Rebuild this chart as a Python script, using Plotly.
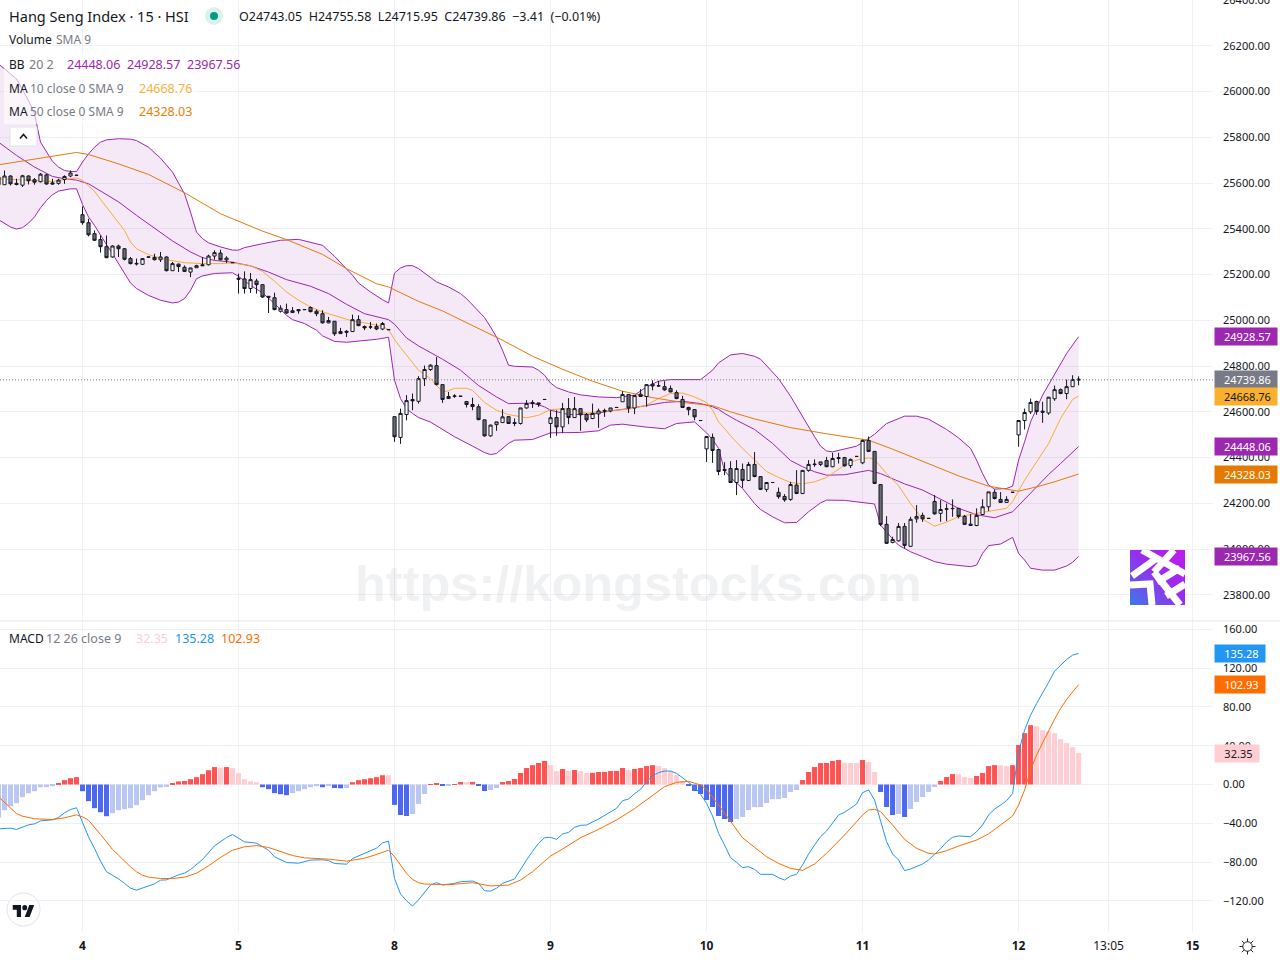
import base64

import plotly.graph_objects as go

UP_FILL = "#ffffff"
DOWN_FILL = "#6a6d73"
PURPLE = "#9c27b0"
MA10_COLOR = "#f9ab35"
MA50_COLOR = "#e67a0c"
GRID = "#f0f1f5"
TEXT = "#131722"
GREY = "#787b86"
FONT = "Noto Sans"

# bar number 0 is the first 15 minute bar of the 4th, 26 bars make one session
first_bar = -14

opens = [25593, 25593, 25631, 25599, 25591, 25631, 25615, 25606, 25636, 25601, 25599, 25616, 25631, 25634,
         25462, 25427, 25379, 25353, 25322, 25277, 25325, 25313, 25270, 25249,
         25245, 25276, 25275, 25265, 25277, 25217, 25246, 25232, 25211, 25230,
         25243, 25243, 25281, 25294, 25264, 25253, 25184, 25181, 25139, 25172,
         25156, 25105, 25099, 25040, 25047, 25034, 25047, 25047, 25056, 25040,
         25029, 24989, 24996, 24942, 24952, 24951, 25003, 24973, 24971, 24973,
         24962, 24960, 24579, 24488, 24588, 24654, 24646, 24745, 24785, 24802,
         24719, 24658, 24668, 24668, 24645, 24632, 24622, 24565, 24495, 24544,
         24553, 24579, 24553, 24549, 24617, 24641, 24639, 24654, 24549, 24575,
         24534, 24614, 24575, 24614, 24588, 24571, 24591, 24606, 24604, 24619,
         24644, 24676, 24617, 24677, 24667, 24721, 24713, 24710, 24702, 24684,
         24654, 24619, 24610, 24562, 24438, 24488, 24435, 24348, 24352, 24291,
         24348, 24300, 24370, 24317, 24261, 24291, 24248, 24230, 24217, 24280,
         24243, 24344, 24369, 24370, 24387, 24360, 24400, 24400, 24365, 24405,
         24377, 24475, 24427, 24282, 24108, 24029, 24036, 24099, 24012, 24132,
         24147, 24134, 24208, 24156, 24174, 24178, 24178, 24143, 24109, 24103,
         24151, 24185, 24248, 24217, 24204, 24248, 24499, 24562, 24600, 24645,
         24603, 24595, 24657, 24697, 24680, 24710, 24743.05]
highs = [25634, 25655, 25634, 25619, 25636, 25634, 25622, 25644, 25641, 25619, 25619, 25634, 25655, 25636,
         25498, 25444, 25393, 25371, 25371, 25328, 25331, 25316, 25277, 25270,
         25272, 25278, 25291, 25299, 25280, 25255, 25248, 25240, 25230, 25243,
         25277, 25287, 25306, 25309, 25280, 25254, 25204, 25214, 25207, 25182,
         25156, 25105, 25121, 25066, 25073, 25058, 25048, 25048, 25061, 25047,
         25044, 25015, 24996, 24967, 24957, 25025, 25022, 24978, 24993, 24986,
         24993, 24961, 24579, 24614, 24673, 24680, 24756, 24802, 24808, 24839,
         24719, 24687, 24677, 24669, 24645, 24662, 24633, 24565, 24544, 24556,
         24611, 24581, 24571, 24617, 24651, 24651, 24639, 24655, 24607, 24607,
         24639, 24660, 24665, 24614, 24595, 24636, 24614, 24614, 24617, 24620,
         24690, 24676, 24671, 24699, 24719, 24738, 24735, 24734, 24715, 24694,
         24670, 24622, 24610, 24563, 24492, 24505, 24435, 24380, 24384, 24389,
         24374, 24381, 24424, 24317, 24291, 24292, 24269, 24240, 24294, 24345,
         24344, 24389, 24392, 24381, 24403, 24421, 24421, 24403, 24396, 24406,
         24479, 24492, 24427, 24282, 24144, 24054, 24114, 24114, 24141, 24192,
         24159, 24135, 24236, 24214, 24199, 24217, 24178, 24149, 24153, 24178,
         24218, 24250, 24261, 24249, 24231, 24249, 24562, 24614, 24658, 24649,
         24644, 24665, 24715, 24702, 24741, 24760, 24755.58]
lows = [25590, 25593, 25590, 25590, 25583, 25594, 25593, 25603, 25593, 25593, 25593, 25597, 25626, 25632,
        25418, 25367, 25347, 25296, 25272, 25274, 25277, 25262, 25245, 25240,
        25243, 25276, 25262, 25255, 25214, 25216, 25211, 25211, 25189, 25229,
        25239, 25240, 25265, 25262, 25251, 25251, 25117, 25117, 25120, 25117,
        25098, 25032, 25044, 25034, 25029, 25032, 25029, 25046, 25035, 25018,
        24986, 24987, 24932, 24941, 24927, 24949, 24974, 24957, 24962, 24957,
        24957, 24958, 24469, 24460, 24563, 24607, 24636, 24713, 24779, 24716,
        24639, 24657, 24661, 24667, 24619, 24607, 24563, 24491, 24491, 24517,
        24552, 24547, 24537, 24544, 24614, 24617, 24622, 24653, 24486, 24495,
        24508, 24546, 24574, 24517, 24555, 24568, 24530, 24578, 24598, 24618,
        24644, 24595, 24590, 24665, 24622, 24694, 24709, 24692, 24686, 24655,
        24617, 24585, 24563, 24561, 24381, 24377, 24323, 24323, 24290, 24236,
        24268, 24297, 24314, 24258, 24250, 24290, 24220, 24207, 24211, 24240,
        24240, 24338, 24360, 24363, 24358, 24358, 24374, 24360, 24354, 24404,
        24371, 24424, 24284, 24100, 24022, 24025, 24033, 24003, 24010, 24115,
        24119, 24133, 24150, 24119, 24122, 24141, 24134, 24105, 24103, 24100,
        24149, 24166, 24217, 24202, 24202, 24247, 24447, 24523, 24590, 24587,
        24552, 24587, 24648, 24677, 24655, 24709, 24715.95]
closes = [25626, 25631, 25597, 25594, 25632, 25610, 25604, 25639, 25596, 25596, 25613, 25629, 25644, 25634,
          25427, 25374, 25350, 25322, 25274, 25325, 25313, 25267, 25248, 25247,
          25270, 25277, 25265, 25277, 25217, 25248, 25235, 25214, 25229, 25239,
          25239, 25281, 25296, 25265, 25272, 25252, 25180, 25139, 25178, 25156,
          25102, 25101, 25047, 25053, 25032, 25042, 25042, 25047, 25038, 25029,
          24989, 24999, 24941, 24951, 24948, 25003, 24977, 24967, 24971, 24962,
          24986, 24959, 24491, 24593, 24649, 24648, 24745, 24785, 24804, 24719,
          24654, 24667, 24669, 24668, 24632, 24623, 24566, 24495, 24542, 24556,
          24578, 24549, 24549, 24617, 24636, 24636, 24633, 24654, 24574, 24534,
          24614, 24575, 24614, 24587, 24565, 24593, 24604, 24603, 24617, 24619,
          24676, 24617, 24671, 24667, 24719, 24713, 24714, 24696, 24687, 24658,
          24619, 24609, 24578, 24562, 24492, 24431, 24339, 24344, 24291, 24352,
          24300, 24370, 24317, 24261, 24291, 24291, 24229, 24215, 24282, 24243,
          24344, 24370, 24371, 24381, 24360, 24396, 24396, 24364, 24392, 24405,
          24475, 24427, 24287, 24108, 24025, 24042, 24099, 24016, 24130, 24143,
          24132, 24134, 24154, 24173, 24176, 24177, 24143, 24108, 24103, 24147,
          24185, 24250, 24221, 24204, 24217, 24248, 24562, 24597, 24641, 24601,
          24598, 24664, 24697, 24680, 24710, 24741, 24739.86]

macd_hist = [-34, -26.5, -22.4, -19.3, -13, -9, -6.9, -2.8, -2.7, -1.7, 1.4, 4.5, 6.5, 7.6,
             -6.9, -17.2, -24.4, -28.6, -32.7, -29.6, -26.5, -25.5, -24.4, -21.3,
             -16.2, -11, -6.9, -3, -2.6, 1.4, 3.2, 3.6, 5.5, 7.6,
             10.7, 14.8, 18, 17.4, 18, 16.9, 11.7, 5.5, 3.4, 2.4,
             -2.8, -4.8, -8.9, -10, -11, -8.9, -6.9, -4.8, -2.8, -1.7,
             -2.8, -1.7, -3.6, -3.9, -3.7, 2.4, 4.5, 5.5, 6.5, 7.6,
             9.6, 9.4, -21, -31.5, -32.5, -30.4, -20, -9.8, 0.5, 1.5,
             -1.5, -1.4, 0.5, 2.6, 2.5, 2.7, -1.5, -6.7, -5.7, -3.6,
             2.6, 3.6, 5.7, 11.9, 17, 20, 22.2, 24.3, 20, 13.9,
             16, 14, 15, 13.9, 11.9, 12, 12.9, 13, 13.9, 14,
             17, 15, 16, 17, 19, 20, 19, 17, 13.9, 9.8,
             3.6, -1.5, -6.7, -9.8, -16, -23.2, -32.5, -35.6, -38.7, -35.6,
             -33.5, -26.3, -23.3, -23.2, -19.1, -15.1, -15, -13.9, -7.7, -5.7,
             4.6, 12.9, 18, 22.1, 22.2, 24.3, 25.3, 22.3, 22.2, 22.1,
             25.3, 23.2, 12.9, -7.7, -23.2, -31.5, -30.4, -33.5, -25.3, -18,
             -12.9, -7.7, -2.6, 3.6, 7.7, 10.8, 10.7, 7.7, 6.7, 8.8,
             11.9, 19, 20, 19.9, 19, 20, 40.8, 53, 61.2, 60.2,
             56, 55, 53, 46.8, 42.7, 38.5, 32.35]

bb_upper_bars = [-14, -11, -9, -8, -7, -6, -5, -4, -3, -2, -1, 0, 1, 2, 3, 4, 6, 8, 9, 11, 13, 15, 16, 17, 18, 19,
                 20, 21, 23, 25, 26, 27, 30, 33, 36, 38, 40, 42, 44, 45, 46, 48, 50, 51,
                 52, 53, 54, 55, 56, 57, 59, 61, 63, 64, 66, 67, 68, 69, 70, 71, 72, 75, 76, 77, 78, 79, 81, 83,
                 86, 89, 92, 94, 96, 98, 103, 104, 105, 106,
                 107, 108, 110, 112, 113, 115, 116, 118, 120, 122, 123, 124, 125, 127, 129, 130, 131, 132, 134,
                 136, 137, 139, 141, 144, 146, 148, 149, 150, 151, 152, 154, 155, 156, 157, 158, 160, 162, 164, 166]
bb_upper = [26121, 26056, 25961, 25903, 25779, 25735, 25695, 25670, 25655, 25651, 25650, 25692, 25728, 25757, 25779,
            25789, 25794, 25792, 25786, 25757, 25709, 25648, 25597, 25553, 25473, 25386,
            25357, 25339, 25321, 25307, 25307, 25318, 25335, 25350, 25354, 25342, 25328, 25280, 25226, 25197, 25163,
            25124, 25090, 25076,
            25207, 25229, 25239, 25239, 25226, 25208, 25168, 25146, 25117, 25095, 25041, 25012, 24971, 24927, 24869,
            24804, 24799, 24796, 24782, 24760, 24726, 24706, 24687, 24674,
            24665, 24662, 24673, 24709, 24734, 24741, 24741, 24760, 24782, 24814,
            24833, 24849, 24855, 24843, 24830, 24775, 24745, 24668, 24578, 24491, 24450, 24429, 24425, 24437, 24450,
            24466, 24483, 24502, 24549,
            24569, 24581, 24581, 24568, 24523, 24486, 24440, 24389, 24330, 24280, 24262, 24265, 24275, 24389, 24469,
            24556, 24673, 24767, 24855, 24928.57]

bb_basis_bars = [-14, -11, -8, -5, -3, -1, 1, 3, 6, 9, 12, 15, 18, 20, 22, 25, 28, 31, 34, 38, 41, 44, 47, 51,
                 52, 54, 56, 58, 60, 63, 66, 69, 71, 75, 77, 78, 81, 85, 88, 91, 94, 97, 100, 103, 105, 106,
                 107, 109, 112, 115, 118, 120, 122, 124, 127, 129, 131, 133, 137, 140, 143, 146, 149, 151, 152,
                 155, 157, 159, 161, 163, 166]
bb_basis = [25779, 25721, 25670, 25629, 25619, 25613, 25597, 25565, 25518, 25459, 25401, 25347, 25299, 25274, 25262,
            25254, 25238, 25211, 25178, 25149, 25117, 25070, 25029, 25003,
            24983, 24923, 24888, 24860, 24830, 24782, 24715, 24665, 24636, 24638, 24622, 24607, 24588, 24590, 24604,
            24614, 24626, 24641, 24646, 24636, 24622, 24611,
            24593, 24563, 24523, 24462, 24387, 24360, 24338, 24323, 24325, 24335, 24344, 24330, 24285, 24258, 24218,
            24178, 24150, 24140, 24137, 24163, 24217, 24272, 24326, 24374, 24448.06]

bb_lower_bars = [-14, -13, -12, -11, -10, -9, -8, -7, -6, -5, -4, -2, -1, 0, 1, 2, 3, 4, 5, 6, 7, 8, 9, 11, 13, 15,
                 16, 17, 18, 19, 20, 22, 25, 26, 28, 30, 32, 34, 35, 37, 38, 39, 40, 41, 42, 44, 47, 49, 51,
                 52, 53, 54, 55, 56, 58, 60, 62, 65, 67, 68, 69, 71, 72, 75, 77, 78, 83, 86, 88, 90, 94, 97, 99,
                 102, 104, 105, 106,
                 107, 108, 110, 112, 113, 115, 117, 119, 121, 123, 124, 127, 130, 132, 133, 134, 135, 136, 138, 140,
                 142, 144, 148, 149, 150, 151, 153, 155, 156, 157, 158, 160, 162, 164, 165, 166]
bb_lower = [25440, 25425, 25408, 25399, 25405, 25425, 25452, 25492, 25524, 25549, 25565, 25575, 25575, 25507, 25452,
            25415, 25371, 25331, 25291, 25248, 25204, 25163, 25139, 25109, 25088, 25076,
            25080, 25095, 25131, 25182, 25194, 25205, 25208, 25192, 25153, 25120, 25073, 25022, 25003, 24986, 24971,
            24957, 24932, 24920, 24908, 24904, 24911, 24917, 24926,
            24738, 24658, 24614, 24593, 24575, 24555, 24524, 24491, 24450, 24422, 24413, 24418, 24462, 24476, 24479,
            24498, 24508, 24510, 24517, 24542, 24546, 24533, 24526, 24549,
            24556, 24508, 24479, 24440,
            24342, 24313, 24265, 24199, 24173, 24141, 24115, 24116, 24163, 24202, 24214, 24213, 24204, 24197, 24105,
            24073, 24044, 24017, 23988, 23967,
            23945, 23934, 23923, 23930, 23981, 24015, 24022, 24051, 23981, 23952, 23916, 23908, 23908, 23926, 23942,
            23967.56]

ma10_bars = [-14, -10, -5, -1, 0, 1, 2, 3, 4, 5, 6, 7, 8, 9, 11, 14, 17, 20, 23, 25, 28, 30, 32, 34, 36, 38, 40, 43,
             45, 47, 50, 51, 52, 53, 54, 55, 56, 58, 60, 61, 62, 64, 65, 67, 69, 71, 74, 76, 78, 81, 84, 87, 91, 94,
             96, 98, 100, 102, 104, 105, 106,
             107, 108, 110, 112, 114, 116, 118, 120, 122, 124, 127, 129, 131, 132, 134, 136, 138, 140, 142, 144, 146,
             149, 151, 154, 155, 157, 159, 161, 163, 165, 166]
ma10 = [25619, 25615, 25607, 25623, 25612, 25588, 25564, 25529, 25495, 25459, 25427, 25393, 25342, 25313, 25287, 25265,
        25252, 25248, 25248, 25251, 25239, 25214, 25171, 25124, 25088, 25058, 25037, 25012,
        24997, 24989, 24974, 24959, 24916, 24881, 24847, 24811, 24782, 24745, 24687, 24692, 24703, 24703, 24694, 24641,
        24607, 24588, 24574, 24585, 24610, 24614, 24594, 24603, 24611, 24629,
        24658, 24680, 24682, 24665, 24641, 24607, 24556,
        24527, 24495, 24440, 24389, 24339, 24313, 24291, 24285, 24294, 24313, 24367, 24389, 24399, 24392, 24330, 24277,
        24199, 24131, 24100, 24118, 24141,
        24156, 24165, 24178, 24207, 24301, 24381, 24461, 24571, 24654, 24668.76]

ma50_bars = [-14, -8, -3, -1, 1, 6, 11, 17, 23, 30, 34, 40, 44, 49, 51, 56,
             60, 65, 70, 75, 80, 85, 90, 95, 100, 105,
             108, 112, 118, 124, 131, 135, 140, 146, 151, 155, 156, 159, 162, 166]
ma50 = [25680, 25706, 25725, 25734, 25725, 25684, 25638, 25558, 25466, 25390, 25353, 25288, 25226, 25160, 25146, 25083,
        25041, 24978, 24913, 24843, 24786, 24734, 24690, 24662, 24641, 24627,
        24600, 24569, 24531, 24504, 24476, 24437, 24383, 24320, 24275, 24255, 24253, 24272, 24294, 24328.03]

macd_line_bars = [-14, -12, -11, -9, -8, -7, -5, -4, -3, -2, -1, 0, 1, 2, 3, 4, 5, 6, 7, 8, 9, 11, 12, 13, 14, 16, 17,
                  18, 19, 20, 22, 23, 24, 25, 26, 27, 29, 30, 31, 32, 33, 34, 36, 38, 40, 41, 42, 44, 45, 47, 49, 50,
                  51, 52, 53, 54, 55, 56, 57, 58, 59, 60, 62, 63, 65, 66, 67, 68, 69, 70, 72, 73, 74, 75, 76, 77, 78,
                  79, 80, 81, 82, 83, 84, 86, 88, 89, 90, 91, 92, 93, 94, 95, 96, 97, 98, 99, 100, 101, 102, 103, 104,
                  105, 106, 107, 108, 109, 110, 111, 112, 113, 115, 116, 117, 118, 119, 120, 121, 122, 123, 124, 125,
                  126, 127, 128, 129, 130, 131, 132, 133, 134, 135, 136, 137, 138, 140, 141, 142, 143, 144, 145, 146,
                  148, 149, 150, 151, 152, 153, 154, 155, 156, 157, 158, 159, 160, 161, 162, 163, 164, 165, 166]
macd_line = [-45.8, -45, -46.4, -41.6, -40.6, -37.5, -36.5, -34, -29.2, -25.8, -24, -39.2, -54, -66, -79, -90, -93.6,
             -97.4, -102, -107, -109, -105, -102.5, -98.7, -98.4, -93.2, -91.5,
             -87.7, -82.6, -77.4, -63.3, -58.8, -54.7, -51.6, -55, -59.2, -60.5, -64.3, -67.8, -74.6, -77.4, -80.5,
             -81.2, -78, -77.7, -78.4, -81.5, -82.2, -76.4, -71.2, -65.7, -60.2,
             -58.5, -97, -113, -120, -125.4, -119, -111, -103.7, -101.3, -103.7, -102, -100.3, -99.6, -102, -109.6,
             -110, -107, -102, -97.5, -87.2, -78, -69, -60.7, -54.9, -54.5,
             -56.6, -51, -49.4, -44.2, -42.1, -41.8, -35.6, -28.4, -24.6, -16.7, -15, -9.5, -5, 2.9, 9.1, 12.2, 13.9,
             13.9, 11.5, 7, 2.2, -2.6, -10.2, -19.4,
             -32.5, -50.4, -62.4, -75.5, -80.3, -85.8, -84.8, -87.6, -92.7, -92.7, -96.1, -98.6, -94.4, -92.7, -83,
             -71.7, -62.4, -53.8, -48, -40,
             -31.5, -28.7, -24.6, -20.1, -8.4, -5.7, -16, -36.6, -59, -71.7, -77.9, -88.9, -87.2, -82, -77.9, -72,
             -66.2, -59.3, -54.5, -53.1,
             -53.8, -48.7, -41.8, -31.5, -25.3, -21.2, -16.7, -9.3, 33.7, 56, 71.6, 83.6, 93.9, 105.3, 117, 123.2, 129,
             133.5, 135.28]

macd_signal_bars = [-14, -13, -12, -11, -10, -8, -5, -3, -1, 0, 1, 2, 3, 4, 5, 6, 7, 8, 9, 10, 11, 13, 15, 17, 19, 21,
                    23, 25, 27, 29, 31, 33, 35, 37, 41, 44, 47, 49, 51,
                    52, 53, 54, 55, 56, 57, 61, 65, 68, 71, 73, 75, 77, 78, 80, 83, 86, 89, 92, 95, 97, 99, 101, 103,
                    104, 106, 108, 110, 112, 114, 116, 118, 120, 122, 124, 127, 130, 131, 132, 133, 135, 137, 139,
                    141, 142, 144, 146, 149, 151, 153, 155, 156, 157, 158, 159, 160, 161, 162, 163, 164, 165, 166]
macd_signal = [-12.7, -18.6, -24.8, -30, -32.7, -35.4, -36.1, -34.4, -31.3, -33.4, -36.8, -44.7, -51.6, -59.2, -67.1,
               -72.9, -79.1, -85, -90.1, -93.6, -95.6, -97, -97, -95.6, -91.5, -83.9,
               -75.3, -67.8, -64.3, -63, -65, -69.5, -73.3, -75.7, -77, -79.1, -76, -72.2, -67.8,
               -74.5, -83.4, -91.7, -97.9, -101.3, -102.7, -103.4, -101.3, -104.7, -103.7, -98.6, -90, -79, -73.8,
               -66.6, -54.9, -46.3, -36.6, -24.9, -10.8, -2.2, 2.2, 3.3, -0.5,
               -5, -21.2, -38.4, -54.9, -64.8, -74.5, -81.4, -86.5, -88.6, -82, -71, -52.1, -31.5, -26.3, -25.6, -28,
               -41.8, -56.6, -65.9,
               -71, -71.7, -68.3, -63.5, -57.3, -51, -41.8, -32.5, -21.2, -5.7, 15, 30.3, 43, 56, 67.4, 78.4, 87.7,
               95.6, 102.93]

time_tick_bars = [0, 26, 52, 78, 104, 130, 156, 171, 185]
time_tick_text = ["<b>4</b>", "<b>5</b>", "<b>8</b>", "<b>9</b>", "<b>10</b>", "<b>11</b>", "<b>12</b>", "13:05",
                  "<b>15</b>"]

bars = list(range(first_bar, first_bar + len(closes)))
hist_bars = list(range(first_bar, first_bar + len(macd_hist)))


def hist_color(prev, value):
    # tradingview colours: strong while the histogram grows away from zero
    if value >= 0:
        return "#ff5252" if prev is not None and value >= prev else "#ffcdd2"
    return "#4c68ee" if prev is not None and value <= prev else "#b9c7f2"


hist_colors = [hist_color(macd_hist[i - 1] if i else None, v) for i, v in enumerate(macd_hist)]

PLOT_W = 1213
PLOT_H = 932


def fx(px):
    return px / PLOT_W


def fy(py):
    return 1 - py / PLOT_H


fig = go.Figure()

fig.add_trace(go.Scatter(x=bb_upper_bars, y=bb_upper, mode="lines", line=dict(color=PURPLE, width=1),
                         xaxis="x", yaxis="y", hoverinfo="skip"))
fig.add_trace(go.Scatter(x=bb_lower_bars, y=bb_lower, mode="lines", line=dict(color=PURPLE, width=1),
                         fill="tonexty", fillcolor="rgba(156,39,176,0.10)", xaxis="x", yaxis="y", hoverinfo="skip"))
fig.add_trace(go.Scatter(x=bb_basis_bars, y=bb_basis, mode="lines", line=dict(color=PURPLE, width=1),
                         xaxis="x", yaxis="y", hoverinfo="skip"))
fig.add_trace(go.Scatter(x=ma10_bars, y=ma10, mode="lines", line=dict(color=MA10_COLOR, width=1),
                         xaxis="x", yaxis="y", hoverinfo="skip"))
fig.add_trace(go.Scatter(x=ma50_bars, y=ma50, mode="lines", line=dict(color=MA50_COLOR, width=1),
                         xaxis="x", yaxis="y", hoverinfo="skip"))

# candles sit on an overlaying axis so they are painted over the indicator lines
fig.add_trace(go.Candlestick(x=bars, open=opens, high=highs, low=lows, close=closes, xaxis="x", yaxis="y3",
                             increasing=dict(fillcolor=UP_FILL, line=dict(color="#131722", width=1)),
                             decreasing=dict(fillcolor=DOWN_FILL, line=dict(color="#131722", width=1)),
                             whiskerwidth=0, hoverinfo="skip"))

fig.add_trace(go.Bar(x=hist_bars, y=macd_hist, marker=dict(color=hist_colors, line=dict(width=0)), width=0.84,
                     xaxis="x2", yaxis="y2", hoverinfo="skip"))
fig.add_trace(go.Scatter(x=macd_line_bars, y=macd_line, mode="lines", line=dict(color="#2196f3", width=1),
                         xaxis="x2", yaxis="y2", hoverinfo="skip"))
fig.add_trace(go.Scatter(x=macd_signal_bars, y=macd_signal, mode="lines", line=dict(color="#ff6d00", width=1),
                         xaxis="x2", yaxis="y2", hoverinfo="skip"))

annotations = []


def add_text(px, py, text, color=TEXT, size=12):
    # annotations carry about 2px of padding on the left
    annotations.append(dict(xref="paper", yref="paper", x=fx(px - 2), y=fy(py), text=text, showarrow=False,
                            xanchor="left", yanchor="middle", font=dict(family=FONT, size=size, color=color)))


def add_price_tag(axis, value, label, bg, color="#ffffff", width=62):
    annotations.append(dict(xref="paper", yref=axis, x=1, y=value, xanchor="left", yanchor="middle", xshift=1,
                            text="&nbsp;" + label, showarrow=False, bgcolor=bg, width=width, height=17, borderpad=0,
                            align="center", valign="middle", font=dict(family=FONT, size=11, color=color)))


annotations.append(dict(xref="paper", yref="paper", x=fx(638.5), y=fy(583), text="<b>https://kongstocks.com</b>",
                        showarrow=False, xanchor="center", yanchor="middle",
                        font=dict(family="Liberation Sans", size=50.5, color="rgba(120,123,134,0.11)")))

add_text(9, 16, "Hang Seng Index · 15 · HSI", size=14.5)
add_text(239, 16.5, "O24743.05  H24755.58  L24715.95  C24739.86  −3.41  (−0.01%)", size=12.5)
add_text(9, 40, "Volume")
add_text(56, 40, "SMA 9", GREY)
add_text(9, 64, "BB")
add_text(29, 64, "20 2", GREY, size=12.5)
add_text(67, 64, "24448.06", PURPLE, size=12.5)
add_text(127, 64, "24928.57", PURPLE, size=12.5)
add_text(187, 64, "23967.56", PURPLE, size=12.5)
add_text(9, 88, "MA")
add_text(30, 88, "10 close 0 SMA 9", GREY)
add_text(139, 88, "24668.76", "#fbb03b", size=12.5)
add_text(9, 112, "MA")
add_text(30, 112, "50 close 0 SMA 9", GREY)
add_text(139, 112, "24328.03", "#ef7d00", size=12.5)
add_text(9, 638.5, "MACD")
add_text(46, 638.5, "12 26 close 9", GREY, size=12.5)
add_text(136, 638.5, "32.35", "#ffcdd2", size=12.5)
add_text(175, 638.5, "135.28", "#2196f3", size=12.5)
add_text(221, 638.5, "102.93", "#ff6d00", size=12.5)

add_price_tag("y", 24928.57, "24928.57", PURPLE)
add_price_tag("y", 24448.06, "24448.06", PURPLE)
add_price_tag("y", 23967.56, "23967.56", PURPLE)
add_price_tag("y", 24739.86, "24739.86", GREY)
add_price_tag("y", 24668.76, "24668.76", "#fbb02d", TEXT)
add_price_tag("y", 24328.03, "24328.03", "#e67a00")
add_price_tag("y2", 135.28, "135.28", "#2196f3", width=50)
add_price_tag("y2", 102.93, "102.93", "#ff6d00", width=50)
add_price_tag("y2", 32.35, "32.35", "#ffcdd2", TEXT, width=44)

shapes = [
    # last price line
    dict(type="line", xref="paper", yref="y", x0=0, x1=1, y0=24739.86, y1=24739.86,
         line=dict(color=GREY, width=1, dash="1px,2px")),
    # pane separator
    dict(type="line", xref="paper", yref="paper", x0=0, x1=1280 / PLOT_W, y0=fy(621), y1=fy(621),
         line=dict(color="#e0e3eb", width=1)),
    # legend background
    dict(type="rect", xref="paper", yref="paper", x0=fx(4), x1=fx(198), y0=fy(53), y1=fy(124), layer="above",
         fillcolor="rgba(255,255,255,0.6)", line=dict(width=0)),
    # collapse button
    dict(type="rect", xref="paper", yref="paper", x0=fx(10), x1=fx(37), y0=fy(127), y1=fy(146), layer="above",
         fillcolor="#ffffff", line=dict(color="#e0e3eb", width=1)),
    dict(type="path", xref="paper", yref="paper", layer="above", line=dict(color=TEXT, width=1.5),
         path=f"M {fx(20)} {fy(138.5)} L {fx(23.5)} {fy(134.5)} L {fx(27)} {fy(138.5)}"),
    # market status dot
    dict(type="circle", xref="paper", yref="paper", x0=fx(205), x1=fx(223), y0=fy(7), y1=fy(25), layer="above",
         fillcolor="#daf2ed", line=dict(width=0)),
    dict(type="circle", xref="paper", yref="paper", x0=fx(210), x1=fx(218), y0=fy(12), y1=fy(20), layer="above",
         fillcolor="#089981", line=dict(width=0)),
    # logo button, kept below so the logo image stays visible on it
    dict(type="circle", xref="paper", yref="paper", x0=fx(7), x1=fx(40), y0=fy(893), y1=fy(926), layer="below",
         fillcolor="#ffffff", line=dict(color="#e0e3eb", width=1)),
]


def svg_source(svg):
    return "data:image/svg+xml;base64," + base64.b64encode(svg.encode()).decode()


brand_svg = """<svg xmlns='http://www.w3.org/2000/svg' viewBox='0 0 55 55'>
<defs><linearGradient id='g' x1='0' y1='1' x2='1' y2='0'>
<stop offset='0' stop-color='#3f78e8'/><stop offset='0.55' stop-color='#9a2bf0'/><stop offset='1' stop-color='#c21be8'/>
</linearGradient></defs><rect width='55' height='55' fill='url(#g)'/>
<g stroke='#ffffff' stroke-width='7' fill='none'>
<path d='M12 0 L55 24'/><path d='M2 26 L27 8'/><path d='M44 0 L24 22'/><path d='M24 22 L50 55'/>
<path d='M0 35 L20 34 L22 55'/><path d='M27 32 L50 18'/><path d='M36 46 L55 34'/>
</g></svg>"""

tv_svg = """<svg xmlns='http://www.w3.org/2000/svg' viewBox='0 4 36 18'>
<path fill='#131722' d='M14 22H7V11H0V4h14v18zM28 22h-8l7.5-18h8L28 22z'/><circle fill='#131722' cx='20' cy='8' r='4'/>
</svg>"""

gear_svg = """<svg xmlns='http://www.w3.org/2000/svg' viewBox='0 0 18 18'>
<g stroke='#131722' stroke-width='1' fill='none'><circle cx='9' cy='9' r='5'/>
<path d='M9 0.5V4M9 14V17.5M0.5 9H4M14 9H17.5M3 3L5.5 5.5M12.5 12.5L15 15M15 3L12.5 5.5M5.5 12.5L3 15'/></g></svg>"""

images = [
    dict(source=svg_source(brand_svg), xref="paper", yref="paper", x=fx(1130), y=fy(550), sizex=55 / PLOT_W,
         sizey=55 / PLOT_H, sizing="stretch", layer="above", xanchor="left", yanchor="top"),
    dict(source=svg_source(tv_svg), xref="paper", yref="paper", x=fx(12.5), y=fy(905), sizex=22 / PLOT_W,
         sizey=12 / PLOT_H, sizing="stretch", layer="above", xanchor="left", yanchor="top"),
    dict(source=svg_source(gear_svg), xref="paper", yref="paper", x=fx(1239), y=fy(938), sizex=17 / PLOT_W,
         sizey=17 / PLOT_H, sizing="stretch", layer="above", xanchor="left", yanchor="top"),
]

x_range = [-13.75, 188.4]
price_range = [23685.5, 26400.5]
macd_range = [-152.2, 167.7]
split = (PLOT_H - 621) / PLOT_H

axis_font = dict(family=FONT, size=11, color=TEXT)
time_font = dict(family=FONT, size=12, color=TEXT)
common_x = dict(range=x_range, tickmode="array", tickvals=time_tick_bars, showgrid=True, gridcolor=GRID, gridwidth=1,
                zeroline=False, showline=False, ticks="", rangeslider=dict(visible=False))
common_y = dict(side="right", tick0=0, tickformat=".2f", gridcolor=GRID, zeroline=False, showline=False, ticks="",
                tickfont=axis_font, ticklabelstandoff=9, ticklabeloverflow="allow")

fig.update_layout(
    width=1280,
    height=960,
    # no autoexpand: the 26400 label has to run off the top of the page like in the original
    margin=dict(l=0, r=1280 - PLOT_W, t=0, b=960 - PLOT_H, autoexpand=False),
    paper_bgcolor="#ffffff",
    plot_bgcolor="#ffffff",
    showlegend=False,
    hovermode=False,
    barmode="overlay",
    boxgap=0.25,
    xaxis=dict(domain=[0, 1], anchor="y", showticklabels=False, **common_x),
    xaxis2=dict(domain=[0, 1], anchor="y2", matches="x", ticktext=time_tick_text, showticklabels=True,
                tickfont=time_font, ticklabelstandoff=5, **common_x),
    yaxis=dict(domain=[split, 1], anchor="x", range=price_range, dtick=200, **common_y),
    yaxis2=dict(domain=[0, (PLOT_H - 622) / PLOT_H], anchor="x2", range=macd_range, dtick=40, **common_y),
    yaxis3=dict(overlaying="y", anchor="x", side="right", range=price_range, visible=False, showgrid=False),
    annotations=annotations,
    shapes=shapes,
    images=images,
)

fig.write_html("out.html", post_script="document.body.style.margin='0';", config={"displayModeBar": False})
